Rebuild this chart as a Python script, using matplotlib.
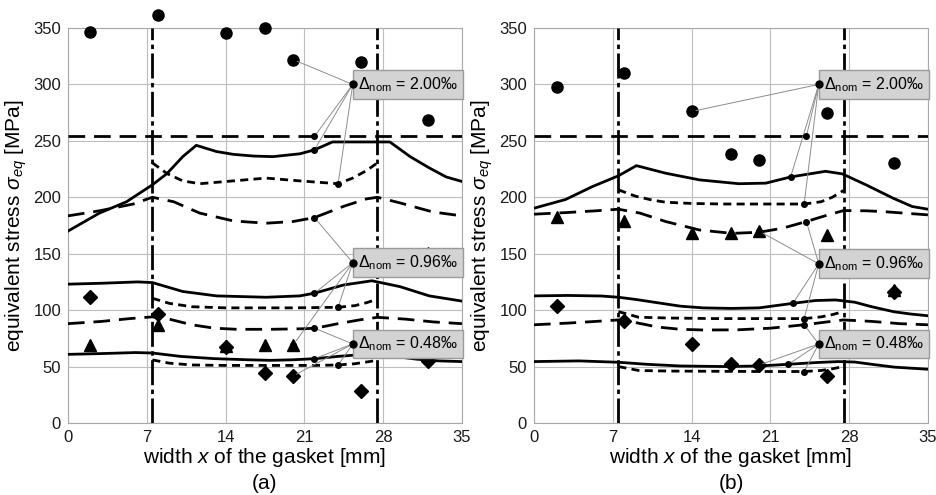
import matplotlib

matplotlib.use("Agg")
import matplotlib.pyplot as plt

plt.rcParams["font.family"] = ["Liberation Sans", "DejaVu Sans"]
plt.rcParams["mathtext.fontset"] = "custom"
plt.rcParams["mathtext.rm"] = "Liberation Sans"
plt.rcParams["mathtext.it"] = "Liberation Sans:italic"

# measurement positions across the gasket width [mm]
MEAS_X = [2, 8, 14, 17.5, 20, 26, 32]
EDGE_X = [7.5, 27.5]          # gasket edges (dash-dot lines)
LIMIT_Y = 254                 # horizontal limit line [MPa]
LEVELS = ["2.00", "0.96", "0.48"]

# ---------------- panel (a) ----------------
A_SOLID_HI_X = [0, 2.8, 5.2, 7.5, 8.8, 10.2, 11.4, 13.2, 14.7, 16.5, 18.2, 20.6, 21.9, 22.7, 23.5, 26, 28.6, 30.4, 32.1, 33.6, 35]
A_SOLID_HI_Y = [170, 186, 196, 211, 221, 236, 246, 240.5, 238, 236.5, 236, 238.5, 242, 245.5, 249, 249, 249, 236, 226, 218, 214]
A_SHORT_HI_X = [7.5, 8.8, 10.2, 11.7, 14.7, 17.6, 20.6, 24, 25.3, 26.5, 27.5]
A_SHORT_HI_Y = [230.5, 221, 214.5, 212, 214.5, 217, 214.5, 212, 217, 223.5, 230.5]
A_LONG_HI_X = [0, 2.8, 5.8, 7.5, 9.4, 11.7, 14.7, 17.6, 20, 21.9, 24.5, 26.5, 27.5, 29.5, 32.4, 35]
A_LONG_HI_Y = [183.5, 188, 194, 200, 196, 186, 179, 177, 178.5, 182, 192, 198.5, 200, 195, 187, 183.5]

A_SOLID_MID_X = [0, 3, 6.2, 7.5, 10.2, 13.2, 17.6, 20.6, 21.9, 24.5, 27, 29.5, 32.1, 35]
A_SOLID_MID_Y = [123, 123.8, 125, 124.4, 116.5, 112.6, 111.4, 112.6, 115, 122.3, 126, 120.8, 112.6, 108]
A_SHORT_MID_X = [7.5, 9, 11, 14, 17, 20, 24, 25.5, 26.5, 27.5]
A_SHORT_MID_Y = [110.5, 106, 103, 102, 102, 102, 102.5, 104, 106.5, 109.7]
A_LONG_MID_X = [0, 3, 5.5, 7.5, 9, 11, 13, 15, 18, 21, 22, 24, 26, 27.5, 30, 32.5, 35]
A_LONG_MID_Y = [88, 90, 92.5, 94, 92, 87, 84, 83, 83, 83.5, 84, 88, 91.5, 93.6, 92, 89.5, 88]

A_SOLID_LO_X = [0, 3, 6, 7.5, 10, 13, 16, 18, 20, 22, 24, 26, 27.5, 29, 31, 33, 35]
A_SOLID_LO_Y = [60.8, 61.5, 62.4, 62, 59, 57, 56, 55.5, 56, 57, 59, 60.5, 60.5, 59, 56.5, 55, 54.4]
A_SHORT_LO_X = [7.5, 9, 11, 14, 18, 22, 24, 25.5, 26.5, 27.5]
A_SHORT_LO_Y = [55.9, 53, 51.4, 51, 51, 51, 51.4, 52.5, 54, 55.5]

A_CIRCLE_Y = [346, 361.7, 345.5, 349.6, 322, 320, 268.6]
A_TRIANGLE_X = [2, 8, 14, 17.5, 20, 32]
A_TRIANGLE_Y = [69, 87, 68, 69, 69, 151]
A_DIAMOND_Y = [112, 96.6, 67, 44.6, 41.6, 28.4, 55]

A_LABEL_Y = [300, 142, 70]
A_LEADERS = [
    [(20, 322), (21.9, 254), (21.9, 242), (24, 212)],
    [(21.9, 182), (21.9, 115), (24, 102.5), (20, 69)],
    [(21.9, 84), (21.9, 57), (24, 51.2), (20, 41.6)],
]

# ---------------- panel (b) ----------------
B_SOLID_HI_X = [0, 2.8, 5.2, 7.5, 9.1, 11.7, 14.7, 18.2, 20.6, 22.8, 25.9, 27.4, 29.5, 31.9, 33.6, 35]
B_SOLID_HI_Y = [190.3, 198, 209.5, 219, 228, 221.3, 215.4, 212, 212.5, 218, 223, 220.7, 211, 199.2, 191.8, 189.4]
B_SHORT_HI_X = [7.5, 9, 10.5, 11.7, 14, 17, 20, 24, 25.5, 26.5, 27.5]
B_SHORT_HI_Y = [206.6, 201, 197.5, 195.6, 194.5, 194, 194, 194, 196, 200, 206]
B_LONG_HI_X = [0, 3, 5.5, 7.5, 9.4, 11.7, 14.7, 17.6, 20, 22.1, 24.2, 26, 27.5, 29.5, 31, 35]
B_LONG_HI_Y = [185, 186.5, 188, 189.4, 186, 178.5, 171, 168, 169, 172.6, 178.5, 184, 188.2, 188, 187.3, 184.4]

B_SOLID_MID_X = [0, 3, 6, 7.5, 9, 11, 13, 15, 17.5, 20, 23, 25, 26.8, 28.5, 30, 32, 33.5, 35]
B_SOLID_MID_Y = [112.6, 113, 112.5, 111.4, 109.5, 106.5, 103.5, 102, 101.5, 102, 106, 108.5, 109, 107, 103, 98.5, 96.5, 95]
B_SHORT_MID_X = [7.5, 9.3, 12, 16, 20, 24, 25.5, 26.5, 27.5]
B_SHORT_MID_Y = [98.7, 93.7, 93, 92.5, 92.5, 92.5, 94, 96, 98.7]
B_LONG_MID_X = [0, 3, 5.5, 7.5, 9, 11, 13, 15, 18, 21, 24, 26, 27.5, 30, 32.5, 35]
B_LONG_MID_Y = [87, 88.5, 90, 91.3, 89, 85, 83, 82.4, 82.5, 84, 87, 89.5, 91.3, 90, 88, 87]

B_SOLID_LO_X = [0, 4, 7.5, 10, 13, 17, 20, 22.6, 25, 27, 28.5, 30, 32, 35]
B_SOLID_LO_Y = [54.4, 55, 53.8, 52, 50.5, 50, 50.5, 52, 53.5, 54.4, 54, 52, 49.5, 47.6]
B_SHORT_LO_X = [7.5, 9.3, 12, 16, 20, 24, 25.5, 26.5, 27.5]
B_SHORT_LO_Y = [50, 46.5, 46, 45.8, 45.6, 45.6, 46.5, 48, 50]

B_CIRCLE_Y = [297.6, 310, 276, 238, 233, 274.5, 230.7]
B_TRIANGLE_X = [2, 8, 14, 17.5, 20, 26, 32]
B_TRIANGLE_Y = [182.3, 179.4, 168, 168, 170, 166.7, 118]
B_DIAMOND_Y = [104, 90, 70, 52.3, 51.4, 41.7, 116]

B_LABEL_Y = [300, 141, 70]
B_LEADERS = [
    [(14, 276), (24.2, 254), (22.8, 218), (24, 194)],
    [(24.2, 178.5), (20, 170), (23, 106), (24, 92.5)],
    [(24, 87), (20, 51.4), (22.6, 52), (24, 45.6)],
]

LABEL_X = 25.3
SHORT_DASH = (2.9, 1.9)
LONG_DASH = (6.0, 3.2)
DASH_DOT = (9, 1.6, 1.6, 1.6)
GRID_COLOR = "#bdbdbd"


def draw_panel(ax, solid, short, long_, circles, triangles, diamonds, label_y, leaders, tag):
    ax.set_xlim(0, 35)
    ax.set_ylim(0, 350)
    ax.set_xticks(range(0, 36, 7))
    ax.set_yticks(range(0, 351, 50))
    ax.tick_params(length=0, labelsize=12, pad=5, colors="#1a1a1a")
    ax.grid(True, color=GRID_COLOR, lw=0.8)
    ax.set_axisbelow(True)
    for sp in ax.spines.values():
        sp.set_color("#a8a8a8")
        sp.set_linewidth(0.8)

    ax.axhline(LIMIT_Y, color="black", lw=2, dashes=LONG_DASH, zorder=3)
    for xe in EDGE_X:
        ax.axvline(xe, color="black", lw=2, dashes=DASH_DOT, zorder=3)

    for xs, ys in solid:
        ax.plot(xs, ys, color="black", lw=2, zorder=3)
    for xs, ys in short:
        ax.plot(xs, ys, color="black", lw=2, dashes=SHORT_DASH, zorder=3)
    for xs, ys in long_:
        ax.plot(xs, ys, color="black", lw=2, dashes=LONG_DASH, zorder=3)

    ax.plot(MEAS_X, circles, "o", color="black", ms=8, clip_on=False, zorder=4)
    ax.plot(MEAS_X, diamonds, "D", color="black", ms=7, zorder=4)
    ax.plot(triangles[0], triangles[1], "^", color="black", ms=8, zorder=4)

    for level, ly, targets in zip(LEVELS, label_y, leaders):
        for tx, ty in targets:
            ax.plot([LABEL_X, tx], [ly, ty], color="#8c8c8c", lw=0.7, zorder=5)
            ax.plot(tx, ty, "o", color="black", ms=4, zorder=6)
        ax.text(LABEL_X + 0.45, ly, r"$\Delta_{\mathrm{nom}}$ = " + level + "\u2030",
                fontsize=11.5, ha="left", va="center", zorder=7,
                bbox=dict(boxstyle="square,pad=0.32", fc="#d3d3d3", ec="#9a9a9a", lw=1))
        ax.plot(LABEL_X, ly, "o", color="black", ms=5, zorder=8)

    ax.set_xlabel(r"width $x$ of the gasket [mm]", fontsize=15, labelpad=1)
    ax.set_ylabel(r"equivalent stress $\sigma_{eq}$ [MPa]", fontsize=15, labelpad=3)
    ax.text(0.5, -0.128, tag, transform=ax.transAxes, ha="center", va="top", fontsize=15)


fig = plt.figure(figsize=(9.36, 4.95), dpi=100)
ax_a = fig.add_axes([0.0726, 0.1455, 0.4209, 0.798])
ax_b = fig.add_axes([0.5705, 0.1455, 0.4209, 0.798])

draw_panel(
    ax_a,
    [(A_SOLID_HI_X, A_SOLID_HI_Y), (A_SOLID_MID_X, A_SOLID_MID_Y), (A_SOLID_LO_X, A_SOLID_LO_Y)],
    [(A_SHORT_HI_X, A_SHORT_HI_Y), (A_SHORT_MID_X, A_SHORT_MID_Y), (A_SHORT_LO_X, A_SHORT_LO_Y)],
    [(A_LONG_HI_X, A_LONG_HI_Y), (A_LONG_MID_X, A_LONG_MID_Y)],
    A_CIRCLE_Y, (A_TRIANGLE_X, A_TRIANGLE_Y), A_DIAMOND_Y, A_LABEL_Y, A_LEADERS, "(a)",
)
draw_panel(
    ax_b,
    [(B_SOLID_HI_X, B_SOLID_HI_Y), (B_SOLID_MID_X, B_SOLID_MID_Y), (B_SOLID_LO_X, B_SOLID_LO_Y)],
    [(B_SHORT_HI_X, B_SHORT_HI_Y), (B_SHORT_MID_X, B_SHORT_MID_Y), (B_SHORT_LO_X, B_SHORT_LO_Y)],
    [(B_LONG_HI_X, B_LONG_HI_Y), (B_LONG_MID_X, B_LONG_MID_Y)],
    B_CIRCLE_Y, (B_TRIANGLE_X, B_TRIANGLE_Y), B_DIAMOND_Y, B_LABEL_Y, B_LEADERS, "(b)",
)

fig.savefig("out.png", dpi=100)
